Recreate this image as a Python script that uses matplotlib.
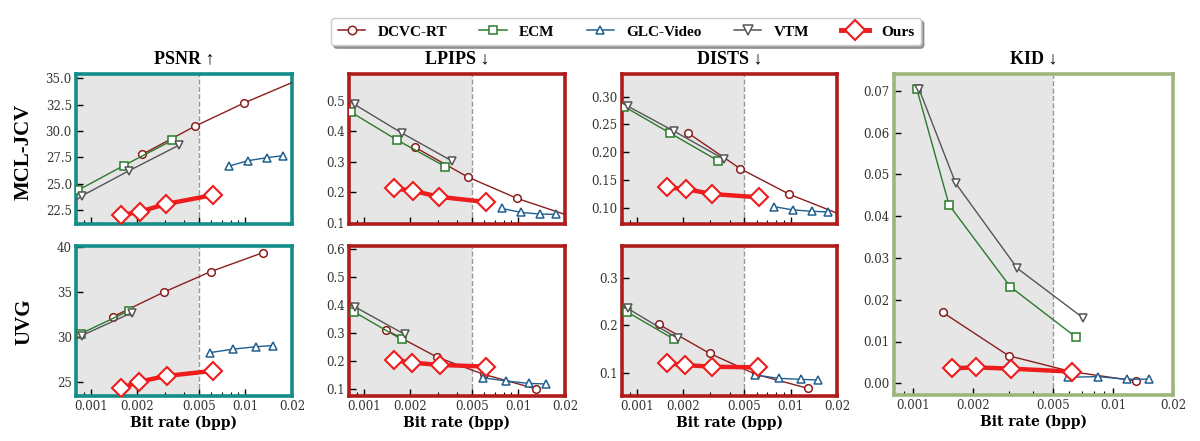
import numpy as np
import matplotlib.pyplot as plt
from matplotlib.lines import Line2D
from matplotlib.ticker import FixedLocator, LogLocator, NullFormatter, FuncFormatter

# ---- bit rates (bpp) ----
mcl_x = {
    "DCVC-RT": [0.00215, 0.0047, 0.0098, 0.025],
    "ECM": [0.00083, 0.00163, 0.00337],
    "GLC-Video": [0.0078, 0.0104, 0.0138, 0.0175],
    "VTM": [0.0006, 0.00087, 0.00175, 0.0037],
    "Ours": [0.00156, 0.00207, 0.00308, 0.0062],
}
uvg_x = {
    "DCVC-RT": [0.00139, 0.00297, 0.00594, 0.0129],
    "ECM": [0.00086, 0.00175],
    "GLC-Video": [0.0059, 0.00834, 0.01164, 0.015],
    "VTM": [0.0006, 0.00087, 0.00184],
    "Ours": [0.00156, 0.00206, 0.00309, 0.00616],
}
kid_x = {
    "DCVC-RT": [0.0014, 0.0030, 0.00621, 0.013],
    "ECM": [0.00104, 0.00151, 0.00306, 0.00651],
    "GLC-Video": [0.00598, 0.00845, 0.01172, 0.01522],
    "VTM": [0.00107, 0.00163, 0.00332, 0.00706],
    "Ours": [0.00156, 0.00206, 0.00309, 0.00621],
}

# ---- metric values ----
psnr_mcl = {
    "DCVC-RT": [27.8, 30.45, 32.66, 35.19],
    "ECM": [24.42, 26.73, 29.13],
    "GLC-Video": [26.67, 27.2, 27.48, 27.67],
    "VTM": [22.0, 23.85, 26.22, 28.65],
    "Ours": [22.03, 22.37, 23.1, 23.95],
}
psnr_uvg = {
    "DCVC-RT": [32.31, 35.04, 37.3, 39.4],
    "ECM": [30.42, 32.94],
    "GLC-Video": [28.32, 28.7, 28.97, 29.1],
    "VTM": [28.94, 30.2, 32.75],
    "Ours": [24.37, 25.1, 25.73, 26.29],
}
lpips_mcl = {
    "DCVC-RT": [0.347, 0.250, 0.180, 0.111],
    "ECM": [0.462, 0.372, 0.284],
    "GLC-Video": [0.147, 0.134, 0.1285, 0.1275],
    "VTM": [0.537, 0.488, 0.395, 0.303],
    "Ours": [0.213, 0.205, 0.185, 0.168],
}
lpips_uvg = {
    "DCVC-RT": [0.311, 0.214, 0.1525, 0.101],
    "ECM": [0.376, 0.2775],
    "GLC-Video": [0.140, 0.1286, 0.120, 0.118],
    "VTM": [0.433, 0.394, 0.295],
    "Ours": [0.2036, 0.194, 0.186, 0.180],
}
dists_mcl = {
    "DCVC-RT": [0.2346, 0.1703, 0.1242, 0.0795],
    "ECM": [0.282, 0.235, 0.1847],
    "GLC-Video": [0.1018, 0.0959, 0.0935, 0.0923],
    "VTM": [0.307, 0.2832, 0.2377, 0.1872],
    "Ours": [0.1367, 0.1337, 0.1247, 0.1187],
}
dists_uvg = {
    "DCVC-RT": [0.2019, 0.1408, 0.0966, 0.0672],
    "ECM": [0.2284, 0.1703],
    "GLC-Video": [0.0952, 0.0882, 0.0861, 0.0846],
    "VTM": [0.261, 0.2356, 0.1724],
    "Ours": [0.1198, 0.1162, 0.1126, 0.1113],
}
kid_vals = {
    "DCVC-RT": [0.017, 0.0066, 0.00278, 0.00055],
    "ECM": [0.0705, 0.04266, 0.0231, 0.01108],
    "GLC-Video": [0.00144, 0.0016, 0.00096, 0.001],
    "VTM": [0.0703, 0.04785, 0.0275, 0.0157],
    "Ours": [0.0036, 0.0038, 0.0035, 0.0028],
}

methods = ["DCVC-RT", "ECM", "GLC-Video", "VTM", "Ours"]
styles = {
    "DCVC-RT": dict(color="#8b1e1e", marker="o", lw=1.0, ms=5.5, mew=1.1, zorder=3),
    "ECM": dict(color="#2b7a2b", marker="s", lw=1.0, ms=5.5, mew=1.1, zorder=3),
    "GLC-Video": dict(color="#1f5f8f", marker="^", lw=1.0, ms=5.5, mew=1.1, zorder=3),
    "VTM": dict(color="#555555", marker="v", lw=1.0, ms=6, mew=1.1, zorder=3),
    "Ours": dict(color="#ee1c1c", marker="D", lw=3.2, ms=9, mew=1.5, zorder=5),
}

TEAL = "#148c88"
DRED = "#b01c1c"
OLIVE = "#9db57c"
XMIN, XMAX = 0.0008, 0.02
SPLIT = 0.005

plt.rcParams["font.family"] = "DejaVu Serif"

W, H = 1200, 441
fig = plt.figure(figsize=(W / 100, H / 100), dpi=100)


def make_ax(x0, y0, x1, y1):
    return fig.add_axes([x0 / W, 1 - y1 / H, (x1 - x0) / W, (y1 - y0) / H])


def draw(ax, xs, ys, frame, yticks, yfmt, ylim, show_xlabels):
    ax.set_xscale("log")
    ax.set_xlim(XMIN, XMAX)
    ax.set_ylim(*ylim)
    ax.axvspan(XMIN, SPLIT, color="#e6e6e6", zorder=0, lw=0)
    ax.axvline(SPLIT, color="#999999", ls="--", lw=1.0, zorder=1)
    for m in methods:
        st = styles[m]
        ax.plot(xs[m], ys[m], color=st["color"], marker=st["marker"], lw=st["lw"],
                ms=st["ms"], mew=st["mew"], mfc="white", mec=st["color"],
                zorder=st["zorder"])
    ax.xaxis.set_major_locator(FixedLocator([0.001, 0.002, 0.005, 0.01, 0.02]))
    ax.xaxis.set_minor_locator(LogLocator(base=10, subs=np.arange(2, 10) * 0.1 * 10, numticks=20))
    ax.xaxis.set_minor_formatter(NullFormatter())
    if show_xlabels:
        ax.xaxis.set_major_formatter(FuncFormatter(lambda v, p: f"{v:g}"))
        ax.set_xlabel("Bit rate (bpp)", fontsize=10, fontweight="bold", labelpad=2)
    else:
        ax.xaxis.set_major_formatter(NullFormatter())
    ax.set_yticks(yticks)
    ax.yaxis.set_major_formatter(FuncFormatter(lambda v, p: yfmt.format(v)))
    ax.tick_params(which="major", direction="in", length=5, width=1.0,
                   labelsize=8.5, labelcolor="#333333", pad=3)
    ax.tick_params(which="minor", direction="in", length=3, width=0.8)
    for sp in ax.spines.values():
        sp.set_color(frame)
        sp.set_linewidth(2.6)


# column x-extents and row y-extents (pixels)
cols = [(76, 292), (349, 565), (622, 837)]
rows = [(74, 224), (246, 396)]
title_font = dict(fontsize=13, fontweight="bold", family=["Liberation Serif", "DejaVu Serif"])

ax = make_ax(cols[0][0], rows[0][0], cols[0][1], rows[0][1])
draw(ax, mcl_x, psnr_mcl, TEAL, [22.5, 25.0, 27.5, 30.0, 32.5, 35.0], "{:.1f}", (21.2, 35.4), False)
ax.set_title("PSNR ↑", pad=8, **title_font)
ax = make_ax(cols[0][0], rows[1][0], cols[0][1], rows[1][1])
draw(ax, uvg_x, psnr_uvg, TEAL, [25, 30, 35, 40], "{:.0f}", (23.5, 40.15), True)

ax = make_ax(cols[1][0], rows[0][0], cols[1][1], rows[0][1])
draw(ax, mcl_x, lpips_mcl, DRED, [0.1, 0.2, 0.3, 0.4, 0.5], "{:.1f}", (0.096, 0.588), False)
ax.set_title("LPIPS ↓", pad=8, **title_font)
ax = make_ax(cols[1][0], rows[1][0], cols[1][1], rows[1][1])
draw(ax, uvg_x, lpips_uvg, DRED, [0.1, 0.2, 0.3, 0.4, 0.5, 0.6], "{:.1f}", (0.075, 0.611), True)

ax = make_ax(cols[2][0], rows[0][0], cols[2][1], rows[0][1])
draw(ax, mcl_x, dists_mcl, DRED, [0.10, 0.15, 0.20, 0.25, 0.30], "{:.2f}", (0.0706, 0.341), False)
ax.set_title("DISTS ↓", pad=8, **title_font)
ax = make_ax(cols[2][0], rows[1][0], cols[2][1], rows[1][1])
draw(ax, uvg_x, dists_uvg, DRED, [0.1, 0.2, 0.3], "{:.1f}", (0.051, 0.367), True)

ax = make_ax(894, 74, 1173, 395)
draw(ax, kid_x, kid_vals, OLIVE, [0.0, 0.01, 0.02, 0.03, 0.04, 0.05, 0.06, 0.07], "{:.2f}",
     (-0.0028, 0.074), True)
ax.set_title("KID ↓", pad=8, **title_font)

# row labels
fig.text(24 / W, 1 - 152 / H, "MCL-JCV", rotation=90, ha="center", va="center",
         fontsize=15, fontweight="bold", family="Liberation Serif")
fig.text(24 / W, 1 - 322 / H, "UVG", rotation=90, ha="center", va="center",
         fontsize=15, fontweight="bold", family="Liberation Serif")

# legend
handles = []
for m in methods:
    st = styles[m]
    handles.append(Line2D([], [], color=st["color"], marker=st["marker"], lw=st["lw"] * 1.1,
                          ms=st["ms"] * 1.1, mew=st["mew"], mfc="white", mec=st["color"], label=m))
fig.legend(handles=handles, loc="upper center", bbox_to_anchor=(626 / W, 1 - 18 / H), ncol=5,
           frameon=True, shadow=True, fancybox=True, handlelength=1.8, columnspacing=2.1,
           borderpad=0.45, handletextpad=0.8, borderaxespad=0,
           prop={"family": "Liberation Serif", "weight": "bold", "size": 11})

fig.savefig("out.png", dpi=100)
